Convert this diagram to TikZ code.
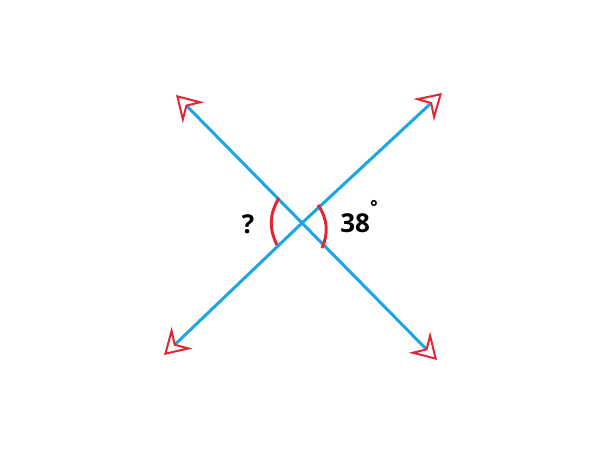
\documentclass[tikz,border=0pt]{standalone}
\usepackage{fontspec}
\setmainfont{Open Sans}
\usetikzlibrary{arrows.meta}
\definecolor{lineblue}{RGB}{28,165,228}
\definecolor{arcred}{RGB}{228,38,52}

\begin{document}
\begin{tikzpicture}[x=0.5pt, y=0.5pt,
        ray/.style={lineblue, line width=1.5pt,
                -{Stealth[open, arcred, length=12.5pt, width=15pt, inset=4.5pt, line width=1pt]}},
        mark arc/.style={arcred, line width=1.5pt},
        label text/.style={font=\fontsize{13}{15}\selectfont\bfseries, inner sep=0pt}]
        \useasboundingbox (0, 0) rectangle (600, 450);

        \coordinate (O) at (302, 227);
        \coordinate (top left) at (176, 355);
        \coordinate (top right) at (442, 357);
        \coordinate (bottom left) at (164, 95);
        \coordinate (bottom right) at (437, 90);

        % the two crossing lines
        \draw[ray] (O) -- (top left);
        \draw[ray] (O) -- (bottom right);
        \draw[ray] (O) -- (top right);
        \draw[ray] (O) -- (bottom left);

        % angle marks
        \coordinate (left arc top) at (279, 252);
        \coordinate (left arc bottom) at (277, 205);
        \coordinate (right arc top) at (318, 245);
        \coordinate (right arc bottom) at (322, 202);
        \draw[mark arc] (left arc top) to[bend right=29] (left arc bottom);
        \draw[mark arc] (right arc top) to[bend left=29] (right arc bottom);

        \node[label text, anchor=base] (unknown) at (248, 216) {?};
        \node[label text, anchor=base west] (given) at (340, 217)
                {38\raisebox{1.4ex}{\fontsize{9}{10}\selectfont°}};
\end{tikzpicture}
\end{document}
